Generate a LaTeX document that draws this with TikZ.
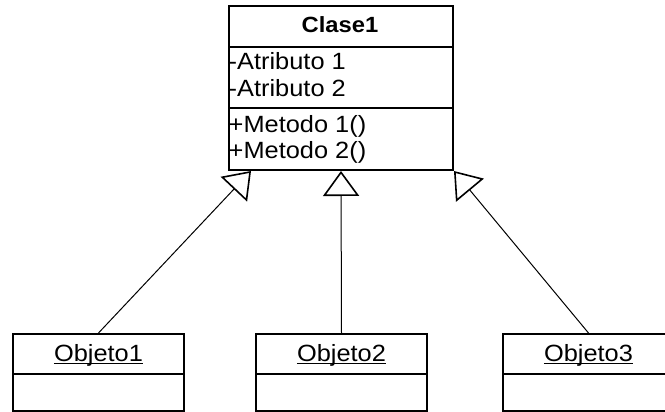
\documentclass[tikz,border=0pt]{standalone}
\usepackage{fontspec}
\setmainfont[FakeStretch=1.08]{Liberation Sans}
\usetikzlibrary{arrows.meta,calc}
\begin{document}
\begin{tikzpicture}[x=1pt,y=-1pt,
  box/.style={draw, line width=2pt, rectangle, inner sep=0pt},
  sep/.style={line width=2pt},
  txt/.style={inner sep=0pt, font=\fontsize{23.5}{27}\selectfont},
  uline/.style={line width=1.2pt},
  gen/.style={line width=1pt, -{Triangle[open, length=25pt, width=36pt, line width=1.6pt]}}]
\useasboundingbox (0,0) rectangle (665,412);
\clip (0,0) rectangle (665,412);
\fill[white] (0,0) rectangle (665,412);
% class box
\node[box, anchor=north west, minimum width=224pt, minimum height=164pt] (c) at (228,5) {};
\draw[sep] (228,47) -- (452,47);
\draw[sep] (228,108) -- (452,108);
\node[txt, anchor=base, font=\fontsize{22}{26}\selectfont\bfseries] (ct) at (340,33) {Clase1};
\node[txt, anchor=base west] (a1) at (228.5,70) {-Atributo 1};
\node[txt, anchor=base west] (a2) at (228.5,97) {-Atributo 2};
\node[txt, anchor=base west] (m1) at (228.5,132) {+Metodo 1()};
\node[txt, anchor=base west] (m2) at (228.5,159) {+Metodo 2()};
% object boxes
\node[box, anchor=north west, minimum width=171pt, minimum height=77pt] (o1) at (12,333) {};
\node[box, anchor=north west, minimum width=171pt, minimum height=77pt] (o2) at (255,333) {};
\node[box, anchor=north west, minimum width=171pt, minimum height=77pt] (o3) at (502,333) {};
\draw[sep] (o1.west |- 0,374) -- (o1.east |- 0,374);
\draw[sep] (o2.west |- 0,374) -- (o2.east |- 0,374);
\draw[sep] (o3.west |- 0,374) -- (o3.east |- 0,374);
\node[txt, anchor=base] (n1) at ($(o1.north)+(0,28)$) {Objeto1};
\node[txt, anchor=base] (n2) at ($(o2.north)+(0,28)$) {Objeto2};
\node[txt, anchor=base] (n3) at ($(o3.north)+(0,28)$) {Objeto3};
\draw[uline] ($(n1.base west)+(0,2.2)$) -- ($(n1.base east)+(0,2.2)$);
\draw[uline] ($(n2.base west)+(0,2.2)$) -- ($(n2.base east)+(0,2.2)$);
\draw[uline] ($(n3.base west)+(0,2.2)$) -- ($(n3.base east)+(0,2.2)$);
% generalisations
\coordinate (t1) at ($(c.south west)+(23,0)$);
\draw[gen] (o1.north) -- (t1);
\draw[gen] (o2.north) -- (c.south);
\draw[gen] (o3.north) -- (c.south east);
\end{tikzpicture}
\end{document}
